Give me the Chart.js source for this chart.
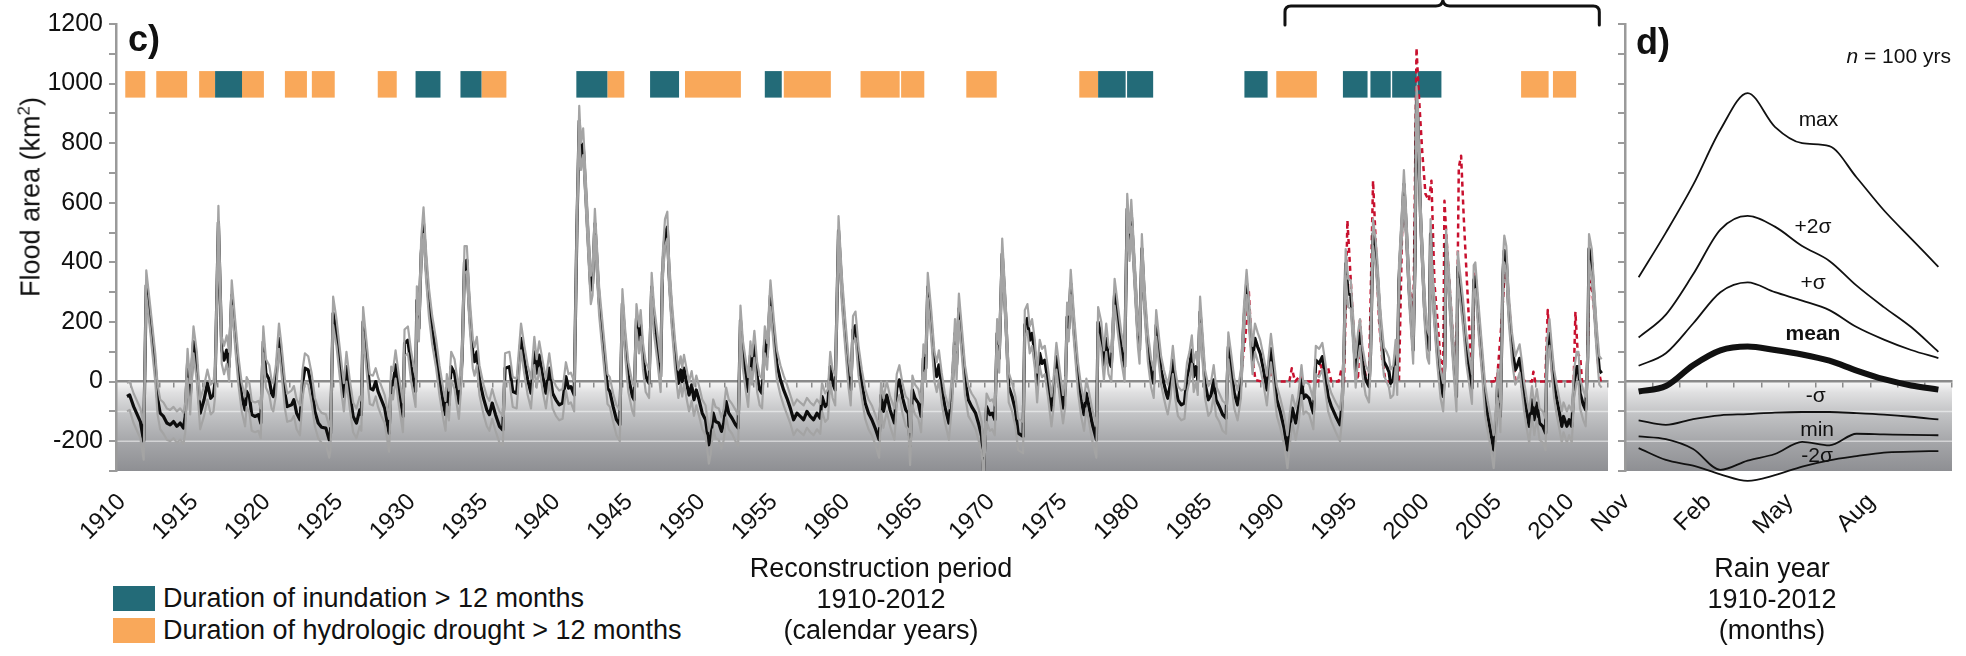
<!DOCTYPE html>
<html><head><meta charset="utf-8">
<script src="https://cdn.jsdelivr.net/npm/chart.js@4/dist/chart.umd.min.js"></script>
<style>
html,body{margin:0;padding:0;background:#fff;}
#wrap{position:relative;width:1966px;height:656px;overflow:hidden;font-family:'Liberation Sans',Arial,Helvetica,sans-serif;color:#111;}
canvas{position:absolute;top:0;}
#cC{left:0;} #cD{left:1540px;}
.t{position:absolute;white-space:nowrap;line-height:1;}
.pl{font-size:36px;font-weight:bold;}
.leg{font-size:27px;}
.sw{position:absolute;width:42px;height:25px;}
.cap{font-size:27px;line-height:31px;text-align:center;transform:translateX(-50%);}
.dl{font-size:21px;transform:translate(-50%,-50%);}
#ytitle{left:31px;top:197px;font-size:27px;transform:translate(-50%,-50%) rotate(-90deg);}
#ytitle sup{font-size:0.62em;vertical-align:super;line-height:0;}
</style></head><body>
<div id="wrap">
<canvas id="cC" width="1625" height="560"></canvas>
<canvas id="cD" width="426" height="560"></canvas>
<div class="t" id="ytitle">Flood area (km<sup>2</sup>)</div>
<div class="t pl" style="left:128px;top:21px;">c)</div>
<div class="t pl" style="left:1636px;top:24px;">d)</div>
<div class="t" style="right:15px;top:45px;font-size:21px;"><i>n</i> = 100 yrs</div>
<div class="sw" style="left:113px;top:586px;background:#236b78;"></div>
<div class="t leg" style="left:163px;top:585px;">Duration of inundation &gt; 12 months</div>
<div class="sw" style="left:113px;top:618px;background:#f9a85a;"></div>
<div class="t leg" style="left:163px;top:617px;">Duration of hydrologic drought &gt; 12 months</div>
<div class="t cap" style="left:881px;top:553px;">Reconstruction period<br>1910-2012<br>(calendar years)</div>
<div class="t cap" style="left:1772px;top:553px;">Rain year<br>1910-2012<br>(months)</div>
</div>
<script>
// ---------- DATA ----------
// rows: [decimal year, mean flood area, lower bound, upper bound] (km2)
const flood1910s = [
[1910.76,-50,-100,-5],[1910.94,-45,-95,0],[1911.22,-84,-140,-40],[1911.68,-134,-190,-90],[1911.91,-200,-262,-140],
[1912.09,323,290,373],[1912.36,206,170,255],[1912.71,50,0,95],[1912.87,-56,-110,-10],[1913.05,-106,-160,-60],
[1913.28,-117,-175,-70],[1913.51,-139,-195,-90],[1913.74,-145,-200,-95],[1913.97,-134,-190,-85],[1914.20,-150,-205,-100],
[1914.43,-139,-195,-90],[1914.66,-156,-210,-105],[1914.78,-117,-170,-70],[1914.94,61,10,110],[1915.12,-56,-110,-5],
[1915.35,134,95,185],[1915.58,50,0,100],[1915.81,-106,-160,-60],[1916.08,-61,-115,-15],[1916.31,-6,-60,40],
[1916.54,-56,-110,-10],[1916.73,-45,-100,0],[1916.84,0,-50,50],[1917.07,535,500,590],[1917.30,106,60,150],
[1917.46,72,25,120],[1917.64,106,60,155],[1917.81,50,0,100],[1917.99,290,255,340],[1918.22,162,120,210],
[1918.45,39,-10,85],[1918.68,-50,-100,-5],[1918.91,-95,-150,-50],[1919.02,-33,-85,15],[1919.21,-50,-105,-5],
[1919.37,-111,-165,-65],[1919.60,-117,-170,-70],[1919.83,-111,-165,-65],[1919.99,-139,-190,-90],[1920.17,134,95,185],
[1920.35,28,-20,75],[1920.58,6,-45,55],[1920.74,-39,-90,5],[1920.86,-50,-100,-5],[1921.04,6,-45,55],
[1921.25,145,110,195],[1921.43,72,25,120],[1921.66,-39,-90,5],[1921.82,-84,-135,-40],[1922.12,-78,-130,-30],
[1922.28,-61,-115,-15],[1922.47,-106,-160,-60],[1922.70,-128,-180,-80],[1922.88,-6,-55,40],[1923.04,45,0,95],
[1923.27,39,-10,85],[1923.50,-17,-70,30],[1923.73,-100,-150,-55],[1923.96,-139,-190,-90],[1924.19,-153,-205,-105],
[1924.49,-156,-210,-110],[1924.72,-195,-255,-150],[1924.81,-173,-230,-125],[1924.99,229,190,285],[1925.22,162,120,210],
[1925.56,17,-35,65],[1925.73,-50,-100,-5],[1925.91,50,0,100],[1926.14,-39,-90,5],[1926.37,-117,-170,-70],
[1926.60,-139,-190,-90],[1926.83,-95,-150,-50]
];
const flood1927s = [
[1926.94,-111,-165,-65],[1927.06,201,165,250],[1927.24,111,65,160],[1927.52,-22,-75,25],[1927.74,-28,-80,20],
[1927.93,0,-50,45],[1928.09,-33,-85,15],[1928.32,-61,-115,-15],[1928.55,-89,-140,-45],[1928.85,-173,-235,-125],
[1929.00,0,-45,50],[1929.12,-11,-60,35],[1929.30,56,10,105],[1929.53,-28,-80,20],[1929.81,-117,-170,-70],
[1929.92,128,85,175],[1930.15,139,95,185],[1930.38,50,0,100],[1930.68,-33,-85,15],[1930.77,273,230,320],
[1930.91,178,135,225],[1931.07,429,390,480],[1931.23,530,495,585],[1931.41,385,340,435],[1931.60,268,220,315],
[1931.83,173,125,220],[1932.10,95,45,140],[1932.33,6,-45,55],[1932.61,-78,-130,-30],[1932.75,-111,-165,-65],
[1932.84,-22,-75,25],[1932.98,-78,-130,-30],[1933.14,50,5,100],[1933.37,28,-25,75],[1933.67,-72,-125,-25],
[1933.89,72,25,120],[1934.06,401,365,455],[1934.22,407,370,455],[1934.40,240,195,290],[1934.63,95,45,145],
[1934.75,67,20,115],[1934.91,100,55,150],[1935.09,6,-45,55],[1935.37,-56,-110,-10],[1935.60,-95,-150,-50],
[1935.78,-111,-165,-65],[1935.97,-72,-125,-25],[1936.20,-111,-165,-65],[1936.47,-150,-205,-100],[1936.70,-162,-215,-115],
[1936.86,45,0,95],[1937.16,50,0,100],[1937.39,-33,-85,15],[1937.66,-39,-90,10],[1937.96,145,105,195],
[1938.19,72,25,120],[1938.42,6,-45,55],[1938.65,-39,-90,10],[1938.88,100,55,150],[1939.04,28,-20,75],
[1939.22,89,45,135],[1939.45,22,-30,70],[1939.68,-39,-90,10],[1939.91,45,0,95],[1940.14,-39,-90,10],
[1940.37,-61,-115,-15],[1940.60,-78,-130,-30],[1940.83,-72,-125,-25],[1941.06,17,-30,65],[1941.24,-22,-75,25],
[1941.40,-17,-70,30],[1941.63,-45,-100,0],[1941.82,518,480,570],[1941.98,875,840,925],[1942.09,752,710,800],
[1942.25,797,760,850],[1942.48,585,540,635],[1942.78,307,260,355],[1942.90,330,290,380],[1943.06,530,490,580],
[1943.35,273,225,320]
];
const flood1943s = [
[1943.63,128,80,175],[1943.93,-22,-75,25],[1944.09,-33,-85,15],[1944.32,-84,-135,-40],[1944.55,-128,-180,-80],
[1944.78,-145,-200,-95],[1944.96,262,225,310],[1945.15,128,85,175],[1945.37,17,-35,65],[1945.65,-50,-100,-5],
[1945.77,-61,-115,-15],[1945.93,212,175,260],[1946.11,139,95,185],[1946.22,190,150,240],[1946.38,84,40,130],
[1946.57,17,-35,65],[1946.80,-6,-55,40],[1946.98,318,280,365],[1947.14,206,160,255],[1947.37,117,70,165],
[1947.60,17,-35,65],[1947.72,362,320,410],[1947.90,496,455,545],[1948.06,518,480,570],[1948.18,362,320,410],
[1948.36,229,185,275],[1948.59,95,45,140],[1948.82,-6,-55,40],[1948.98,39,-10,85],[1949.09,0,-50,45],
[1949.21,45,-5,90],[1949.44,-17,-70,30],[1949.56,-45,-100,0],[1949.74,-11,-65,35],[1949.90,-61,-115,-15],
[1950.06,-28,-80,20],[1950.25,-61,-115,-15],[1950.47,-106,-160,-60],[1950.70,-128,-180,-80],[1950.93,-212,-275,-165],
[1951.05,-190,-245,-140],[1951.23,-106,-160,-60],[1951.39,-134,-190,-85],[1951.61,-139,-195,-90],[1951.80,-167,-225,-120],
[1951.96,-139,-195,-90],[1952.12,-67,-120,-20],[1952.30,-106,-160,-60],[1952.53,-123,-175,-75],[1952.77,-145,-200,-95],
[1952.95,-156,-215,-110],[1953.11,206,165,255],[1953.27,95,45,140],[1953.45,33,-20,80],[1953.64,-33,-85,15],
[1953.80,89,45,135],[1953.91,39,-10,85],[1954.07,123,80,170],[1954.26,17,-35,65],[1954.44,-28,-80,20],
[1954.60,-39,-90,10],[1954.79,139,95,185],[1954.95,84,40,130],[1955.18,290,250,340],[1955.41,162,115,210],
[1955.63,56,5,105],[1955.87,6,-45,55],[1956.09,-28,-80,20],[1956.32,-56,-110,-10],[1956.55,-89,-140,-45],
[1956.78,-128,-180,-80],[1957.01,-106,-160,-60],[1957.24,-117,-170,-70],[1957.47,-128,-180,-80],[1957.70,-100,-155,-55],
[1957.93,-117,-170,-70],[1958.16,-128,-180,-80],[1958.39,-106,-160,-60],[1958.62,-123,-175,-75],[1958.74,-50,-100,-5],
[1958.96,-84,-135,-40],[1959.15,-72,-125,-25],[1959.31,50,0,100],[1959.47,-6,-55,40],[1959.65,-28,-80,20],
[1959.88,507,465,555],[1960.11,307,260,355],[1960.34,162,115,210],[1960.57,30,-20,80],[1960.72,-28,-80,20],
[1960.88,173,130,220],[1961.05,188,145,235],[1961.26,70,20,120]
];
const flood1961s = [
[1961.49,-6,-55,40],[1961.72,-72,-125,-25],[1961.95,-106,-160,-60],[1962.18,-128,-180,-80],[1962.41,-156,-210,-110],
[1962.68,-195,-255,-150],[1962.82,-45,-100,0],[1962.98,-100,-155,-55],[1963.21,-45,-100,0],[1963.44,-95,-150,-50],
[1963.74,-139,-195,-90],[1963.90,-22,-75,25],[1964.08,6,-45,55],[1964.31,-56,-110,-10],[1964.52,-95,-150,-50],
[1964.70,-106,-160,-60],[1964.82,-217,-280,-170],[1964.98,-28,-80,20],[1965.16,-56,-110,-10],[1965.39,-72,-125,-25],
[1965.58,-117,-170,-70],[1965.74,78,30,125],[1965.90,45,0,95],[1966.04,318,280,365],[1966.27,195,150,245],
[1966.50,50,0,100],[1966.66,17,-35,65],[1966.81,56,5,105],[1967.00,-17,-70,30],[1967.22,-84,-135,-40],
[1967.50,-139,-195,-90],[1967.73,-17,-70,30],[1967.92,162,120,210],[1968.03,56,5,105],[1968.19,245,205,295],
[1968.42,117,70,165],[1968.61,6,-45,55],[1968.84,-61,-115,-15],[1969.07,-84,-135,-40],[1969.34,-106,-160,-60],
[1969.57,-145,-200,-95],[1969.76,-184,-240,-135],[1969.89,-300,-320,-250],[1970.10,-84,-135,-40],[1970.33,-111,-165,-65],
[1970.49,-106,-160,-60],[1970.67,-128,-180,-80],[1970.83,162,120,210],[1970.97,78,30,125],[1971.18,429,390,480],
[1971.41,229,185,275],[1971.63,-17,-70,30],[1971.86,-50,-100,-5],[1972.09,-95,-150,-50],[1972.28,-173,-230,-125],
[1972.62,-184,-240,-135],[1972.74,190,150,240],[1972.92,212,170,260],[1973.08,139,95,185],[1973.24,162,120,210],
[1973.43,95,45,140],[1973.59,-17,-70,30],[1973.77,95,50,140],[1973.93,61,15,110],[1974.12,72,25,120],
[1974.35,-6,-55,40],[1974.58,-95,-150,-50],[1974.74,-28,-80,20],[1974.92,84,40,130],[1975.15,-6,-55,40],
[1975.38,-89,-140,-45],[1975.54,-28,-80,20],[1975.66,217,175,265],[1975.77,178,135,225],[1975.91,329,290,375],
[1976.14,173,130,220],[1976.41,17,-35,65],[1976.64,-67,-120,-20],[1976.83,-111,-165,-65],[1976.99,-39,-90,10],
[1977.15,-78,-130,-30],[1977.38,-139,-195,-90],[1977.68,-195,-255,-150]
];
const flood1977s = [
[1977.80,200,160,250],[1978.02,150,105,200],[1978.20,55,5,105],[1978.36,145,100,195],[1978.52,72,25,120],
[1978.71,50,0,100],[1978.94,295,255,345],[1979.17,206,160,255],[1979.40,117,70,165],[1979.63,50,0,100],
[1979.81,580,540,630],[1979.97,451,405,500],[1980.09,563,520,610],[1980.32,362,315,410],[1980.55,162,115,210],
[1980.66,106,60,155],[1980.82,446,405,495],[1981.00,273,230,320],[1981.23,117,70,165],[1981.46,28,-20,75],
[1981.64,-6,-55,40],[1981.81,190,150,240],[1981.97,117,70,165],[1982.15,39,-10,85],[1982.34,-6,-55,40],
[1982.50,-39,-90,10],[1982.61,-56,-110,-10],[1982.80,-6,-55,40],[1982.96,72,25,120],[1983.12,-6,-55,40],
[1983.31,-61,-115,-15],[1983.54,-78,-130,-30],[1983.76,-72,-125,-25],[1983.94,17,-35,65],[1984.11,50,0,100],
[1984.27,106,60,155],[1984.40,17,-35,65],[1984.56,50,0,100],[1984.68,6,-45,55],[1984.84,234,195,285],
[1985.02,106,60,155],[1985.18,-6,-55,40],[1985.41,-61,-115,-15],[1985.60,-45,-100,0],[1985.78,6,-45,55],
[1985.94,-61,-115,-15],[1986.17,-84,-135,-40],[1986.40,-111,-165,-65],[1986.63,-123,-175,-75],[1986.79,117,75,165],
[1986.97,50,0,100],[1987.20,-39,-90,10],[1987.43,-78,-130,-30],[1987.66,-6,-55,40],[1987.85,190,150,240],
[1988.05,329,290,375],[1988.23,217,175,265],[1988.46,72,25,120],[1988.63,145,100,195],[1988.81,117,70,165],
[1988.99,95,45,140],[1989.22,39,-10,85],[1989.45,-28,-80,20],[1989.73,111,65,160],[1989.91,39,-10,85],
[1990.14,-61,-115,-15],[1990.37,-100,-155,-55],[1990.64,-156,-210,-110],[1990.87,-229,-290,-180],[1991.05,-150,-205,-100],
[1991.21,-89,-140,-45],[1991.44,-139,-195,-90],[1991.61,-95,-150,-50],[1991.84,6,-45,55],[1991.98,-56,-110,-10],
[1992.14,-45,-100,0],[1992.37,-56,-110,-10],[1992.66,-106,-160,-60],[1992.83,72,25,120],[1993.06,61,15,110],
[1993.28,84,40,130],[1993.45,28,-20,75],[1993.68,-50,-100,-5],[1993.91,-84,-135,-40],[1994.21,-117,-170,-70],
[1994.50,-145,-200,-95],[1994.66,-61,-115,-15],[1994.78,106,60,155],[1994.89,396,355,445]
];
const flood1995s = [
[1995.06,295,250,345],[1995.24,290,245,340],[1995.42,162,115,210],[1995.58,33,-20,80],[1995.74,117,70,165],
[1995.88,162,120,210],[1996.04,72,25,120],[1996.27,6,-45,55],[1996.50,-17,-70,30],[1996.61,95,50,140],
[1996.78,496,455,545],[1996.96,429,385,475],[1997.07,362,320,410],[1997.30,184,140,230],[1997.53,67,20,115],
[1997.72,50,0,100],[1997.88,33,-20,80],[1997.99,-6,-55,40],[1998.18,6,-45,55],[1998.34,95,50,140],
[1998.45,6,-45,55],[1998.57,340,300,390],[1998.80,552,510,600],[1998.91,663,620,710],[1999.07,518,475,565],
[1999.26,318,275,365],[1999.42,206,160,255],[1999.55,106,60,155],[1999.67,385,340,435],[1999.78,942,900,990],
[1999.87,886,840,935],[2000.06,552,505,600],[2000.33,251,205,300],[2000.52,128,80,175],[2000.65,106,60,155],
[2000.75,496,455,545],[2000.86,340,295,390],[2001.02,229,185,275],[2001.21,106,60,155],[2001.44,-6,-55,40],
[2001.62,-50,-100,-5],[2001.73,50,5,100],[2001.82,463,420,510],[2002.01,329,285,375],[2002.17,206,160,255],
[2002.35,72,25,120],[2002.54,-50,-100,-5],[2002.63,385,345,435],[2002.81,307,265,355],[2002.99,229,185,275],
[2003.22,106,60,155],[2003.45,28,-20,75],[2003.61,-22,-75,25],[2003.73,340,300,390],[2003.84,351,310,400],
[2004.07,206,160,255],[2004.30,72,25,120],[2004.53,-61,-115,-15],[2004.69,-111,-165,-65],[2004.88,-162,-215,-115],
[2005.11,-229,-290,-180],[2005.29,-117,-170,-70],[2005.38,-6,-55,40],[2005.57,-117,-170,-70],[2005.75,362,320,410],
[2005.84,440,400,490],[2005.98,407,365,455],[2006.14,251,205,300],[2006.37,117,70,165],[2006.60,39,-10,85],
[2006.71,50,0,100],[2006.90,78,30,125],[2007.06,17,-35,65],[2007.22,-50,-100,-5],[2007.40,-106,-160,-60],
[2007.56,-150,-205,-100],[2007.75,-61,-115,-15],[2007.91,-128,-180,-80],[2008.09,-72,-125,-25],[2008.27,-139,-195,-90],
[2008.50,-150,-205,-100],[2008.69,-173,-230,-125],[2008.78,84,40,130],[2008.96,162,120,210],[2009.12,72,25,120],
[2009.28,-6,-55,40],[2009.47,-61,-115,-15],[2009.65,-106,-160,-60],[2009.81,-150,-205,-100],[2009.93,-117,-170,-70],
[2010.16,-150,-205,-100],[2010.32,-128,-180,-80],[2010.50,-150,-205,-100],[2010.66,-6,-55,40],[2010.84,50,0,100],
[2010.96,50,0,100],[2011.07,-39,-90,10],[2011.30,-78,-130,-30],[2011.46,-95,-150,-50],[2011.60,84,40,130],
[2011.69,446,405,495],[2011.88,396,350,445],[2012.04,273,230,320],[2012.22,139,95,185],[2012.40,39,-10,85],
[2012.56,28,-20,75]
];
// observed (red dashed) flood area: [decimal year, km2]
const observedFlood = [
[1987.63,10],[1987.97,150],[1988.20,307],[1988.38,139],[1988.54,50],[1988.66,5],[1989.11,0],[1989.34,30],[1989.50,10],
[1989.69,30],[1989.91,0],[1990.71,0],[1991.00,0],[1991.17,45],[1991.40,0],[1991.74,20],[1991.97,0],[1993.00,0],
[1993.16,56],[1993.34,30],[1993.50,10],[1993.68,45],[1993.91,0],[1994.40,0],[1994.59,40],[1994.78,0],[1995.01,541],
[1995.19,385],[1995.42,184],[1995.58,50],[1995.74,6],[1995.88,206],[1996.04,95],[1996.27,17],[1996.50,0],[1996.61,273],
[1996.78,674],[1996.96,474],[1997.19,206],[1997.42,72],[1997.65,0],[1998.34,0],[1998.40,10],[1998.57,0],[1998.80,540],
[1998.91,650],[1999.07,500],[1999.26,330],[1999.42,273],[1999.55,139],[1999.78,1120],[1999.94,964],[2000.17,775],
[2000.40,630],[2000.63,607],[2000.81,674],[2001.02,329],[2001.21,217],[2001.44,72],[2001.62,6],[2001.71,607],
[2001.90,440],[2002.13,273],[2002.35,106],[2002.54,6],[2002.70,719],[2002.86,758],[2003.04,552],[2003.27,329],
[2003.50,106],[2003.61,0],[2003.77,362],[2003.96,273],[2004.19,106],[2004.42,0],[2005.11,0],[2005.22,17],[2005.33,0],
[2005.68,217],[2005.91,407],[2006.14,273],[2006.37,139],[2006.60,6],[2007.75,0],[2007.85,33],[2007.98,0],[2008.67,0],
[2008.84,240],[2009.02,106],[2009.20,0],[2010.63,0],[2010.75,234],[2010.91,95],[2011.09,78],[2011.21,0],[2011.55,0],
[2011.71,340],[2011.90,307],[2012.12,206],[2012.35,39],[2012.51,0]
];
// duration spans [start year, end year]
const inundationSpans = [[1916.84,1918.70],[1930.68,1932.40],[1933.78,1935.23],[1941.78,1943.92],[1946.87,1948.87],
[1954.79,1955.96],[1977.80,1979.70],[1979.80,1981.60],[1987.90,1989.50],[1994.70,1996.40],[1996.60,1998.00],
[1998.10,1999.80],[1999.85,2001.50]];
const droughtSpans = [[1910.64,1912.02],[1912.78,1914.91],[1915.74,1916.84],[1918.70,1920.21],[1921.66,1923.18],
[1923.52,1925.10],[1928.07,1929.38],[1935.23,1936.95],[1943.92,1945.09],[1949.28,1953.14],[1956.10,1959.35],
[1961.40,1964.10],[1964.20,1965.80],[1968.70,1970.80],[1976.50,1977.80],[1990.10,1992.90],[2007.00,2008.90],
[2009.20,2010.80]];
const bracketYears = [1990.7, 2001.6, 2012.4];
const yearTicks = [1910,1915,1920,1925,1930,1935,1940,1945,1950,1955,1960,1965,1970,1975,1980,1985,1990,1995,2000,2005,2010];

// panel d: seasonal statistics, Nov..Oct (month position within rain year)
const rainMonths = [0.5,1.5,2.5,3.5,4.5,5.5,6.5,7.5,8.5,9.5,10.5,11.5];
const seasonMax    = [350,500,660,845,968,855,800,790,685,575,480,385];
const seasonPlus2  = [148,225,360,510,556,520,455,405,322,250,183,100];
const seasonPlus1  = [53,95,195,300,333,300,272,240,183,141,106,79];
const seasonMean   = [-33,-15,55,105,118,106,91,70,37,8,-13,-27];
const seasonMinus1 = [-130,-145,-126,-113,-109,-104,-102,-102,-106,-111,-118,-127];
const seasonMin    = [-184,-193,-226,-296,-265,-243,-202,-214,-175,-177,-179,-180];
const seasonMinus2 = [-223,-263,-282,-311,-333,-314,-285,-264,-250,-238,-235,-233];
const monthTicks = [0,3,6,9];
const monthLabels = ['Nov','Feb','May','Aug'];
const curveLabels = [['max',7.1,885,false],['+2σ',6.9,525,false],['+σ',6.9,338,false],['mean',6.9,168,true],
['-σ',7.0,-40,false],['min',7.05,-155,false],['-2σ',7.05,-242,false]];

// ---------- CHARTS ----------
const FONT = "'Liberation Sans', Arial, Helvetica, sans-serif";
Chart.defaults.font.family = FONT;
Chart.defaults.color = '#111';
Chart.defaults.animation = false;

const floodRows = [].concat(flood1910s, flood1927s, flood1943s, flood1961s, flood1977s, flood1995s);
const col = (rows, i) => rows.map(r => ({x: r[0], y: r[i]}));

const shadePlugin = {
  id: 'shade',
  beforeDraw(chart) {
    const {ctx, chartArea: a} = chart; const y = chart.scales.y;
    const y0 = y.getPixelForValue(0);
    const g = ctx.createLinearGradient(0, y0, 0, a.bottom);
    g.addColorStop(0, '#f8f8f8'); g.addColorStop(0.12, '#e0e0e1'); g.addColorStop(0.35, '#c3c4c6');
    g.addColorStop(0.7, '#a3a4a7'); g.addColorStop(1, '#8e8f93');
    ctx.save(); ctx.fillStyle = g; ctx.fillRect(a.left, y0, a.right - a.left, a.bottom - y0);
    ctx.strokeStyle = 'rgba(255,255,255,0.5)'; ctx.lineWidth = 1.5;
    [-100, -200].forEach(v => { const p = y.getPixelForValue(v); ctx.beginPath(); ctx.moveTo(a.left, p); ctx.lineTo(a.right, p); ctx.stroke(); });
    ctx.restore();
  }
};
const blocksPlugin = {
  id: 'blocks',
  beforeDatasetsDraw(chart, args, opts) {
    const {ctx} = chart; const x = chart.scales.x, y = chart.scales.y;
    const top = y.getPixelForValue(opts.top), bot = y.getPixelForValue(opts.bottom);
    ctx.save();
    const draw = (spans, color) => spans.forEach(([s, e]) => {
      const x1 = x.getPixelForValue(s), x2 = x.getPixelForValue(e);
      ctx.fillStyle = color; ctx.fillRect(x1, top, x2 - x1, bot - top);
    });
    draw(droughtSpans, '#f9a85a'); draw(inundationSpans, '#236b78');
    ctx.restore();
  }
};
const bracePlugin = {
  id: 'brace',
  afterDraw(chart) {
    const {ctx} = chart; const x = chart.scales.x;
    const [a, m, b] = bracketYears.map(v => x.getPixelForValue(v));
    const yh = 6, yl = 25, r = 6;
    ctx.save(); ctx.strokeStyle = '#111'; ctx.lineWidth = 3; ctx.lineJoin = 'round'; ctx.lineCap = 'round';
    ctx.beginPath();
    ctx.moveTo(a, yl); ctx.lineTo(a, yh + r); ctx.quadraticCurveTo(a, yh, a + r, yh);
    ctx.lineTo(m - 7, yh); ctx.quadraticCurveTo(m - 1, yh, m, 0.5); ctx.quadraticCurveTo(m + 1, yh, m + 7, yh);
    ctx.lineTo(b - r, yh); ctx.quadraticCurveTo(b, yh, b, yh + r); ctx.lineTo(b, yl);
    ctx.stroke(); ctx.restore();
  }
};

const lineBase = {pointRadius: 0, tension: 0, borderJoinStyle: 'round', xAxisID: 'x', yAxisID: 'y'};
const tickFont = {size: 24, family: FONT};

const chartC = new Chart(document.getElementById('cC'), {
  type: 'line',
  data: {datasets: [
    Object.assign({data: col(floodRows, 3), borderColor: '#a4a4a4', borderWidth: 2.2}, lineBase),
    Object.assign({data: col(floodRows, 2), borderColor: '#a4a4a4', borderWidth: 2.2}, lineBase),
    Object.assign({data: col(floodRows, 1), borderColor: '#0d0d0d', borderWidth: 3.2}, lineBase),
    Object.assign({data: observedFlood.map(r => ({x: r[0], y: r[1]})), borderColor: '#c8102e', borderWidth: 2.5, borderDash: [5, 4]}, lineBase)
  ]},
  options: {
    responsive: false, animation: false,
    layout: {padding: {left: 0, right: 17, top: 24, bottom: 0}},
    plugins: {legend: {display: false}, tooltip: {enabled: false}, blocks: {top: 1042, bottom: 953}},
    scales: {
      x: {type: 'linear', position: 'bottom', min: 1910, max: 2013,
        afterBuildTicks: s => { s.ticks = yearTicks.map(v => ({value: v})); },
        ticks: {autoSkip: false, minRotation: 45, maxRotation: 45, font: tickFont, color: '#111', padding: 9, labelOffset: 6, callback: v => String(v)},
        grid: {display: false}, border: {display: false},
        afterFit: s => { s.height = 89; }},
      x0: {type: 'linear', axis: 'x', position: {y: 0}, min: 1910, max: 2013,
        ticks: {display: false, stepSize: 1},
        grid: {drawOnChartArea: false, drawTicks: true, tickLength: 5, color: '#8a8a8a', lineWidth: 1.5},
        border: {display: true, color: '#8a8a8a', width: 2.5}},
      y: {type: 'linear', position: 'left', min: -300, max: 1200,
        ticks: {autoSkip: false, stepSize: 100, font: {size: 25, family: FONT}, color: '#111', padding: 6, callback: v => (v % 200 === 0 ? String(v) : '')},
        grid: {drawOnChartArea: false, tickLength: 7, color: '#9a9a9a', lineWidth: 2},
        border: {color: '#9a9a9a', width: 2.5},
        afterFit: s => { s.width = 116; }}
    }
  },
  plugins: [shadePlugin, blocksPlugin, bracePlugin]
});

const dLine = (vals, w) => Object.assign({}, lineBase, {
  data: rainMonths.map((m, i) => ({x: m, y: vals[i]})), borderColor: '#111', borderWidth: w,
  cubicInterpolationMode: 'monotone', clip: false
});
const chartD = new Chart(document.getElementById('cD'), {
  type: 'line',
  data: {datasets: [dLine(seasonMax, 1.8), dLine(seasonPlus2, 1.8), dLine(seasonPlus1, 1.8), dLine(seasonMean, 6),
    dLine(seasonMinus1, 1.8), dLine(seasonMin, 1.8), dLine(seasonMinus2, 1.8)]},
  options: {
    responsive: false, animation: false,
    layout: {padding: {left: 0, right: 14, top: 24, bottom: 0}},
    plugins: {legend: {display: false}, tooltip: {enabled: false}},
    scales: {
      x: {type: 'linear', position: 'bottom', min: 0, max: 12,
        afterBuildTicks: s => { s.ticks = monthTicks.map(v => ({value: v})); },
        ticks: {autoSkip: false, minRotation: 45, maxRotation: 45, font: tickFont, color: '#111', padding: 9, labelOffset: 1,
          callback: (v, i) => monthLabels[i]},
        grid: {display: false}, border: {display: false},
        afterFit: s => { s.height = 89; }},
      x0: {type: 'linear', axis: 'x', position: {y: 0}, min: 0, max: 12,
        ticks: {display: false, stepSize: 1},
        grid: {drawOnChartArea: false, drawTicks: true, tickLength: 5, color: '#8a8a8a', lineWidth: 1.5},
        border: {display: true, color: '#8a8a8a', width: 2.5}},
      y: {type: 'linear', position: 'left', min: -300, max: 1200,
        ticks: {autoSkip: false, stepSize: 100, callback: () => ''},
        grid: {drawOnChartArea: false, tickLength: 7, color: '#9a9a9a', lineWidth: 2},
        border: {color: '#9a9a9a', width: 2.5},
        afterFit: s => { s.width = 85; }}
    }
  },
  plugins: [shadePlugin]
});

// curve labels placed through panel d's scales
const wrap = document.getElementById('wrap');
curveLabels.forEach(([txt, m, v, bold]) => {
  const el = document.createElement('div');
  el.className = 't dl'; el.textContent = txt;
  if (bold) el.style.fontWeight = 'bold';
  el.style.left = (1540 + chartD.scales.x.getPixelForValue(m)) + 'px';
  el.style.top = chartD.scales.y.getPixelForValue(v) + 'px';
  wrap.appendChild(el);
});
</script>
</body></html>
